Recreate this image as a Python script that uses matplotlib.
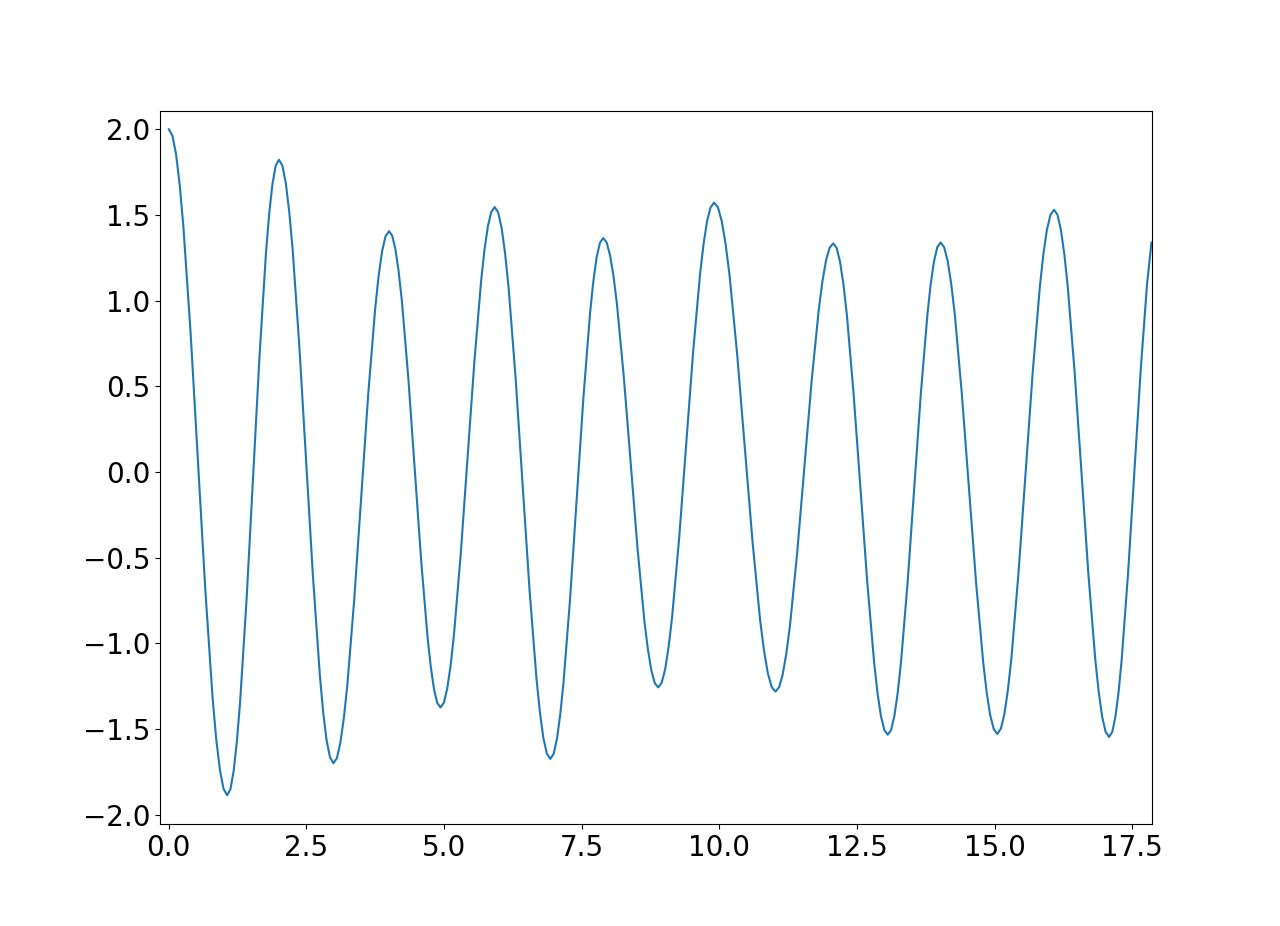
import matplotlib
matplotlib.use('Agg')
import matplotlib.pyplot as plt

plt.rc('font', size=20)

# values, one row per half-cycle (peak -> trough or back)
t = [0.000, 0.066, 0.133, 0.199, 0.265, 0.398, 0.530, 0.663, 0.795, 0.861, 0.928, 0.994,
     1.060, 1.119, 1.178, 1.236, 1.295, 1.413, 1.530, 1.648, 1.765, 1.824, 1.883, 1.941,
     2.000, 2.062, 2.124, 2.186, 2.248, 2.371, 2.495, 2.619, 2.743, 2.804, 2.866, 2.928,
     2.990, 3.053, 3.116, 3.179, 3.243, 3.369, 3.495, 3.621, 3.748, 3.811, 3.874, 3.937,
     4.000, 4.058, 4.117, 4.175, 4.234, 4.351, 4.468, 4.584, 4.701, 4.760, 4.818, 4.877,
     4.935, 4.997, 5.058, 5.120, 5.181, 5.304, 5.428, 5.551, 5.674, 5.735, 5.797, 5.858,
     5.920, 5.983, 6.046, 6.109, 6.173, 6.299, 6.425, 6.551, 6.678, 6.741, 6.804, 6.867,
     6.930, 6.990, 7.050, 7.110, 7.170, 7.290, 7.410, 7.530, 7.650, 7.710, 7.770, 7.830,
     7.890, 7.953, 8.015, 8.078, 8.140, 8.265, 8.390, 8.515, 8.640, 8.703, 8.765, 8.828,
     8.890, 8.953, 9.017, 9.080, 9.144, 9.271, 9.398, 9.524, 9.651, 9.715, 9.778, 9.842,
     9.905, 9.975, 10.044, 10.114, 10.184, 10.323, 10.463, 10.602, 10.741, 10.811, 10.881, 10.950,
     11.020, 11.086, 11.151, 11.217, 11.283, 11.414, 11.545, 11.676, 11.808, 11.873, 11.939, 12.004,
     12.070, 12.132, 12.194, 12.256, 12.318, 12.441, 12.565, 12.689, 12.813, 12.874, 12.936, 12.998,
     13.060, 13.120, 13.180, 13.240, 13.300, 13.420, 13.540, 13.660, 13.780, 13.840, 13.900, 13.960,
     14.020, 14.084, 14.149, 14.213, 14.278, 14.406, 14.535, 14.664, 14.793, 14.857, 14.921, 14.986,
     15.050, 15.114, 15.179, 15.243, 15.308, 15.436, 15.565, 15.694, 15.823, 15.887, 15.951, 16.016,
     16.080, 16.143, 16.205, 16.268, 16.330, 16.455, 16.580, 16.705, 16.830, 16.893, 16.955, 17.018,
     17.080, 17.138, 17.195, 17.253, 17.310, 17.425, 17.540, 17.655, 17.770, 17.850]

y = [2.000, 1.963, 1.852, 1.672, 1.431, 0.801, 0.057, -0.688, -1.318, -1.559, -1.739, -1.850,
     -1.887, -1.852, -1.746, -1.574, -1.344, -0.743, -0.033, 0.678, 1.279, 1.509, 1.681, 1.787,
     1.822, 1.789, 1.688, 1.524, 1.306, 0.735, 0.061, -0.613, -1.184, -1.402, -1.566, -1.666,
     -1.700, -1.671, -1.582, -1.438, -1.245, -0.742, -0.148, 0.447, 0.950, 1.143, 1.287, 1.376,
     1.405, 1.379, 1.299, 1.170, 0.998, 0.547, 0.015, -0.517, -0.968, -1.140, -1.269, -1.349,
     -1.375, -1.347, -1.264, -1.128, -0.947, -0.474, 0.086, 0.645, 1.118, 1.299, 1.435, 1.518,
     1.546, 1.515, 1.424, 1.274, 1.074, 0.552, -0.065, -0.681, -1.203, -1.403, -1.553, -1.644,
     -1.675, -1.646, -1.560, -1.418, -1.230, -0.737, -0.155, 0.427, 0.920, 1.108, 1.250, 1.336,
     1.365, 1.340, 1.265, 1.143, 0.981, 0.556, 0.054, -0.449, -0.874, -1.036, -1.158, -1.233,
     -1.258, -1.231, -1.151, -1.019, -0.843, -0.385, 0.157, 0.699, 1.157, 1.333, 1.464, 1.545,
     1.572, 1.545, 1.464, 1.331, 1.154, 0.692, 0.145, -0.402, -0.864, -1.041, -1.174, -1.255,
     -1.282, -1.257, -1.183, -1.061, -0.899, -0.475, 0.026, 0.527, 0.951, 1.113, 1.235, 1.309,
     1.334, 1.307, 1.225, 1.092, 0.914, 0.449, -0.100, -0.649, -1.114, -1.292, -1.425, -1.507,
     -1.534, -1.507, -1.425, -1.291, -1.113, -0.648, -0.098, 0.453, 0.918, 1.096, 1.230, 1.312,
     1.339, 1.312, 1.230, 1.097, 0.919, 0.454, -0.095, -0.644, -1.109, -1.287, -1.420, -1.502,
     -1.529, -1.500, -1.413, -1.271, -1.081, -0.585, 0.001, 0.586, 1.082, 1.272, 1.414, 1.501,
     1.530, 1.501, 1.413, 1.270, 1.079, 0.581, -0.009, -0.598, -1.096, -1.287, -1.430, -1.518,
     -1.547, -1.518, -1.429, -1.285, -1.093, -0.592, 0.002, 0.595, 1.096, 1.339]

fig = plt.figure(figsize=(12.8, 9.26), dpi=100)
plt.plot(t, y)
plt.xlim([-0.16, 17.86])
plt.ylim([-2.056, 2.106])
plt.savefig('out.png')
